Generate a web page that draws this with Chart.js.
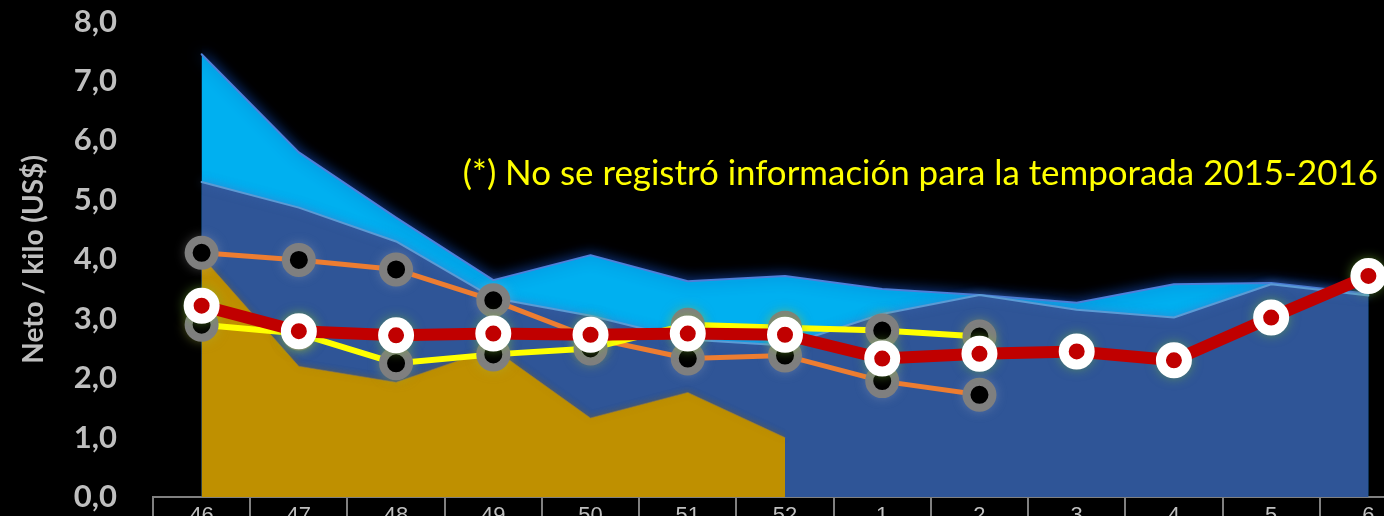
<!DOCTYPE html>
<html>
<head>
<meta charset="utf-8">
<script src="https://cdn.jsdelivr.net/npm/chart.js@4.4.0/dist/chart.umd.min.js"></script>
<style>
  html, body { margin: 0; padding: 0; background: #000; overflow: hidden; }
  #marco { position: relative; top: -33px; width: 1440px; height: 593px; }
</style>
</head>
<body>
<div id="marco"><canvas id="precios"></canvas></div>
<script>
const semanas = ['46', '47', '48', '49', '50', '51', '52', '1', '2', '3', '4', '5', '6'];

// areas
const maximo = [7.45, 5.8, 4.7, 3.65, 4.07, 3.63, 3.72, 3.5, 3.4, 3.27, 3.58, 3.6, 3.42];
const promedio = [5.3, 4.87, 4.3, 3.35, 3.05, 2.65, 2.55, 3.08, 3.4, 3.15, 3.02, 3.58, 3.39];
const minimo = [4.05, 2.2, 1.93, 2.5, 1.33, 1.76, 1.0, null, null, null, null, null, null];

// lineas
const temporadaA = [4.11, 3.99, 3.83, 3.31, 2.68, 2.33, 2.38, 1.95, 1.72, null, null, null, null];
const temporadaB = [2.9, 2.75, 2.25, 2.4, 2.5, 2.9, 2.85, 2.8, 2.7, null, null, null, null];
const temporadaActual = [3.22, 2.79, 2.72, 2.75, 2.73, 2.75, 2.73, 2.33, 2.41, 2.45, 2.3, 3.02, 3.72];

const yTicks = [0, 1, 2, 3, 4, 5, 6, 7, 8];
const nota = '(*) No se registró información para la temporada 2015-2016';

function ponerBrillo(chart, meta) {
  const ctx = chart.ctx;
  const b = meta ? chart.data.datasets[meta.index].brillo : null;
  ctx.shadowOffsetX = 0;
  ctx.shadowOffsetY = 0;
  if (b) {
    ctx.shadowColor = b.color;
    ctx.shadowBlur = b.blur;
  } else {
    ctx.shadowColor = 'rgba(0,0,0,0)';
    ctx.shadowBlur = 0;
  }
}

// sombra difusa de las areas + halo bajo los marcadores
const brillo = {
  id: 'brillo',
  beforeDatasetsDraw(chart) {
    const metas = chart.getSortedVisibleDatasetMetas();
    ponerBrillo(chart, metas[metas.length - 1]);
  },
  beforeDatasetDraw(chart, args) {
    const h = chart.data.datasets[args.index].halo;
    if (!h) return;
    const ctx = chart.ctx;
    ctx.save();
    ctx.shadowColor = h.color;
    ctx.shadowBlur = h.blur;
    ctx.fillStyle = h.color;
    args.meta.data.forEach(p => {
      if (p.skip) return;
      ctx.beginPath();
      ctx.arc(p.x, p.y, h.radius, 0, Math.PI * 2);
      ctx.fill();
    });
    ctx.restore();
  },
  afterDatasetDraw(chart, args) {
    const metas = chart.getSortedVisibleDatasetMetas();
    const i = metas.findIndex(m => m.index === args.index);
    ponerBrillo(chart, i > 0 ? metas[i - 1] : null);
  },
  afterDatasetsDraw(chart) {
    ponerBrillo(chart, null);
  }
};

const textoNota = {
  id: 'textoNota',
  afterDraw(chart) {
    const ctx = chart.ctx;
    const y = chart.scales.y.getPixelForValue(5.25);
    ctx.save();
    let size = 28;
    ctx.font = size + 'px Lato';
    size = size * 916 / ctx.measureText(nota).width;
    ctx.font = size.toFixed(1) + 'px Lato';
    ctx.fillStyle = '#FFFF00';
    ctx.textAlign = 'right';
    ctx.textBaseline = 'alphabetic';
    ctx.fillText(nota, chart.chartArea.right - 39, y);
    ctx.restore();
  }
};

new Chart(document.getElementById('precios'), {
  type: 'line',
  data: {
    labels: semanas,
    datasets: [
      {
        data: temporadaActual,
        order: 1,
        borderColor: '#C00000',
        borderWidth: 12,
        pointRadius: 13,
        pointBorderWidth: 10,
        pointBackgroundColor: '#C00000',
        pointBorderColor: '#FFFFFF',
        halo: { color: 'rgba(120,190,50,0.8)', blur: 12, radius: 17 }
      },
      {
        data: temporadaB,
        order: 2,
        borderColor: '#FFFF00',
        borderWidth: 6,
        pointRadius: 13,
        pointBorderWidth: 8,
        pointBackgroundColor: '#000000',
        pointBorderColor: '#7F7F7F',
        halo: { color: 'rgba(170,180,60,0.75)', blur: 12, radius: 16 }
      },
      {
        data: temporadaA,
        order: 3,
        borderColor: '#ED7D31',
        borderWidth: 5,
        pointRadius: 13,
        pointBorderWidth: 8,
        pointBackgroundColor: '#000000',
        pointBorderColor: '#7F7F7F',
        halo: { color: 'rgba(190,190,190,0.6)', blur: 12, radius: 16 }
      },
      {
        data: minimo,
        order: 4,
        fill: 'origin',
        backgroundColor: '#BF9000',
        borderColor: 'rgba(140,120,80,0.6)',
        borderWidth: 1,
        pointRadius: 0,
        brillo: { color: 'rgba(120,100,40,0.6)', blur: 6 }
      },
      {
        data: promedio,
        order: 5,
        fill: 'origin',
        backgroundColor: '#2F5597',
        borderColor: '#5B9BD5',
        borderWidth: 2,
        pointRadius: 0,
        brillo: { color: 'rgba(70,120,200,0.6)', blur: 10 }
      },
      {
        data: maximo,
        order: 6,
        fill: 'origin',
        backgroundColor: '#00B0F0',
        borderColor: '#4F7FD8',
        borderWidth: 2,
        pointRadius: 0,
        brillo: { color: 'rgba(20,70,170,0.9)', blur: 14 }
      }
    ]
  },
  options: {
    responsive: true,
    maintainAspectRatio: false,
    animation: false,
    events: [],
    layout: { autoPadding: false, padding: { top: 20, right: 23, bottom: 0, left: 0 } },
    elements: {
      line: { tension: 0, borderJoinStyle: 'round', borderCapStyle: 'round' },
      point: { pointStyle: 'circle' }
    },
    datasets: { line: { clip: false, spanGaps: false } },
    plugins: {
      legend: { display: false },
      tooltip: { enabled: false }
    },
    scales: {
      x: {
        offset: true,
        afterFit(scale) { scale.height = 63; },
        grid: { offset: true, drawOnChartArea: false, drawTicks: true, tickLength: 40, color: '#808080', lineWidth: 2 },
        border: { display: true, color: '#808080', width: 2 },
        ticks: {
          color: '#BFBFBF',
          padding: -34,
          autoSkip: false,
          maxRotation: 0,
          font: { family: 'Liberation Sans', size: 22 }
        }
      },
      y: {
        min: 0,
        max: 8,
        afterFit(scale) { scale.width = 153; },
        afterBuildTicks(scale) { scale.ticks = yTicks.map(v => ({ value: v })); },
        grid: { display: false, drawTicks: false },
        border: { display: false },
        ticks: {
          padding: 36,
          color: '#BFBFBF',
          font: { family: 'Lato', weight: 'bold', size: 31 },
          callback: v => v.toFixed(1).replace('.', ',')
        },
        title: {
          display: true,
          text: 'Neto / kilo (US$)',
          color: '#BFBFBF',
          font: { family: 'Lato', weight: 'bold', size: 28 },
          padding: { top: 17, bottom: 0 }
        }
      }
    }
  },
  plugins: [brillo, textoNota]
});
</script>
</body>
</html>
